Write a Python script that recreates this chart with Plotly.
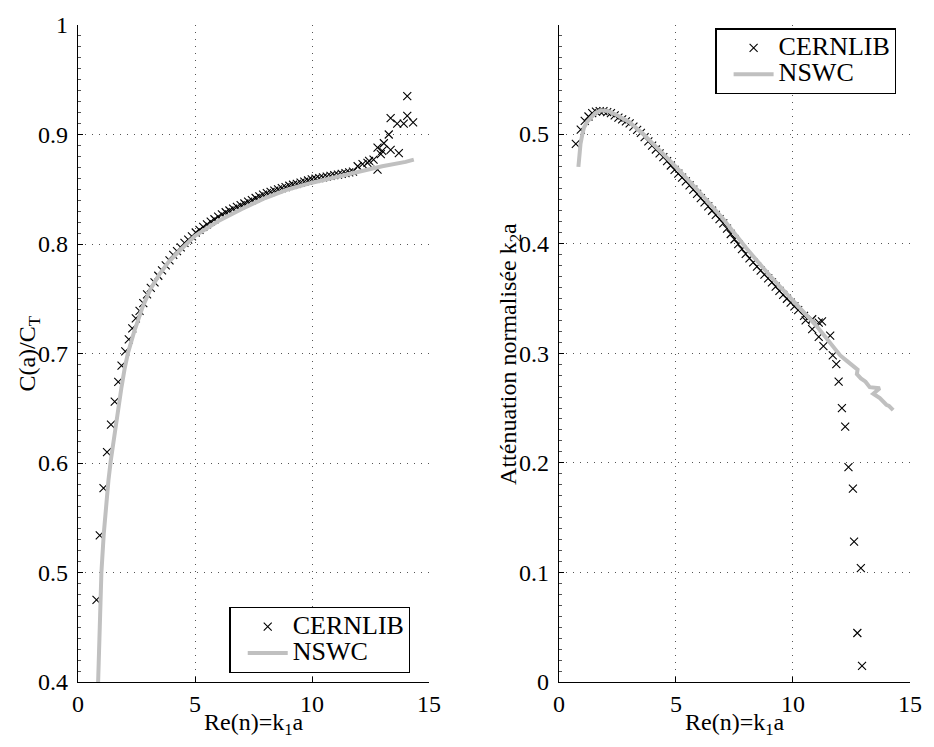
import plotly.graph_objects as go

# ---------------- data ----------------
# Left panel: C(a)/C_T vs Re(n)=k1 a
left_cern_x = [0.79, 0.93, 1.09, 1.24, 1.41, 1.57, 1.72, 1.86, 2.02, 2.17, 2.32, 2.47,
               2.63, 2.79, 2.95, 3.11, 3.27, 3.43, 3.59, 3.75, 3.91, 4.07, 4.23, 4.39,
               4.55, 4.71, 4.87, 5.03, 5.19, 5.35, 5.51, 5.67, 5.83, 5.99, 6.15, 6.31,
               6.47, 6.63, 6.79, 6.95, 7.11, 7.27, 7.43, 7.59, 7.75, 7.91, 8.07, 8.23,
               8.39, 8.55, 8.71, 8.87, 9.03, 9.19, 9.35, 9.51, 9.67, 9.83, 9.99, 10.15,
               10.31, 10.47, 10.63, 10.79, 10.95, 11.11, 11.27, 11.43, 11.59, 11.75,
               11.95, 12.16, 12.37, 12.44, 12.63, 12.80, 12.80, 12.94, 13.00, 13.07,
               13.28, 13.36, 13.36, 13.64, 13.71, 13.92, 14.07, 14.07, 14.32]
left_cern_y = [0.475, 0.534, 0.577, 0.610, 0.635, 0.656, 0.674, 0.689, 0.702, 0.713, 0.723, 0.732,
               0.739, 0.746, 0.754, 0.760, 0.765, 0.771, 0.776, 0.7805, 0.785, 0.790, 0.7935, 0.797,
               0.801, 0.804, 0.807, 0.8105, 0.813, 0.8156, 0.818, 0.8204, 0.8226, 0.825, 0.827, 0.829,
               0.8306, 0.8323, 0.834, 0.8355, 0.837, 0.8387, 0.840, 0.842, 0.8435, 0.845, 0.8465, 0.8476,
               0.8487, 0.8499, 0.851, 0.852, 0.8532, 0.8541, 0.855, 0.856, 0.857, 0.858, 0.859, 0.8596,
               0.8602, 0.8609, 0.8615, 0.8622, 0.8628, 0.8634, 0.8641, 0.8647, 0.8654, 0.866,
               0.871, 0.873, 0.874, 0.876, 0.877, 0.868, 0.888, 0.882, 0.885, 0.892,
               0.900, 0.886, 0.915, 0.910, 0.883, 0.910, 0.917, 0.935, 0.911]

left_nswc_x = [0.86, 0.93, 1.00, 1.10, 1.20, 1.30, 1.40, 1.50, 1.60, 1.70, 1.85, 2.00,
               2.13, 2.40, 2.77, 3.10, 3.47, 3.85, 4.25, 5.00, 6.00, 7.00, 8.00, 9.00,
               10.00, 11.00, 12.00, 13.00, 14.00, 14.35]
left_nswc_y = [0.400, 0.450, 0.500, 0.535, 0.562, 0.584, 0.602, 0.618, 0.633, 0.647, 0.668, 0.687,
               0.700, 0.720, 0.743, 0.759, 0.772, 0.783, 0.792, 0.8075, 0.821, 0.832, 0.842, 0.850,
               0.856, 0.861, 0.866, 0.871, 0.875, 0.877]

# Right panel: normalised attenuation k2 a vs Re(n)=k1 a
right_cern_x = [0.72, 0.93, 1.10, 1.26, 1.42, 1.58, 1.74, 1.90, 2.06, 2.22, 2.38, 2.54,
                2.70, 2.86, 3.02, 3.18, 3.34, 3.50, 3.66, 3.82, 3.98, 4.14, 4.30, 4.46,
                4.62, 4.78, 4.94, 5.10, 5.26, 5.42, 5.58, 5.74, 5.90, 6.06, 6.22, 6.38,
                6.54, 6.70, 6.86, 7.02, 7.18, 7.34, 7.50, 7.66, 7.82, 7.98, 8.14, 8.30,
                8.46, 8.62, 8.78, 8.94, 9.10, 9.26, 9.42, 9.58, 9.74, 9.90, 10.06, 10.22,
                10.47, 10.54, 10.82, 10.82, 11.10, 11.10, 11.24, 11.30, 11.59, 11.70,
                11.85, 11.95, 12.09, 12.23, 12.37, 12.56, 12.61, 12.90, 12.75, 12.95]
right_cern_y = [0.491, 0.504, 0.512, 0.516, 0.519, 0.5205, 0.521, 0.521, 0.520, 0.519, 0.517, 0.515,
                0.5133, 0.5115, 0.5097, 0.5068, 0.5039, 0.501, 0.4972, 0.4933, 0.4895, 0.4859, 0.4824, 0.4789,
                0.4753, 0.4713, 0.4674, 0.4638, 0.4603, 0.4568, 0.4531, 0.4492, 0.4454, 0.4416, 0.4377, 0.4339,
                0.430, 0.4262, 0.4224, 0.4184, 0.4136, 0.4088, 0.404, 0.3995, 0.395, 0.3906, 0.3866, 0.3828,
                0.379, 0.3754, 0.3718, 0.3683, 0.3646, 0.3608, 0.3569, 0.3532, 0.3497, 0.3462, 0.3427, 0.3393,
                0.334, 0.330, 0.331, 0.322, 0.328, 0.315, 0.329, 0.3065, 0.316, 0.298,
                0.290, 0.274, 0.250, 0.233, 0.196, 0.1765, 0.128, 0.104, 0.0447, 0.0148]

right_nswc_x = [0.83, 0.88, 0.92, 1.00, 1.07, 1.20, 1.36, 1.55, 1.78, 2.10, 2.50, 3.00,
                3.60, 4.30, 5.00, 6.00, 7.00, 8.00, 9.00, 10.00, 10.50, 11.00, 11.30, 11.65,
                12.02, 12.30, 12.55, 12.70, 12.76, 12.73, 12.90, 13.10, 13.28, 13.71, 13.43,
                13.71, 13.99, 14.10, 14.28]
right_nswc_y = [0.470, 0.485, 0.491, 0.500, 0.506, 0.511, 0.515, 0.519, 0.5216, 0.521, 0.517, 0.511,
                0.500, 0.485, 0.470, 0.447, 0.423, 0.396, 0.371, 0.348, 0.337, 0.325, 0.317, 0.308,
                0.298, 0.293, 0.289, 0.287, 0.285, 0.281, 0.277, 0.274, 0.269, 0.268, 0.263,
                0.259, 0.253, 0.252, 0.248]

x_ticks = [0, 5, 10, 15]
left_y_ticks = [0.4, 0.5, 0.6, 0.7, 0.8, 0.9, 1.0]
left_y_labels = ["0.4", "0.5", "0.6", "0.7", "0.8", "0.9", "1"]
right_y_ticks = [0, 0.1, 0.2, 0.3, 0.4, 0.5]
right_y_labels = ["0", "0.1", "0.2", "0.3", "0.4", "0.5"]

x_title = "Re(n)=k<sub>1</sub>a"
left_y_title = "C(a)/C<sub>T</sub>"
right_y_title = "Atténuation normalisée k<sub>2</sub>a"

# ---------------- figure ----------------
FONT = "'Liberation Serif', 'Times New Roman', Times, 'DejaVu Serif', serif"
GRAY = "#c0c0c0"

fig = go.Figure()

marker_style = dict(symbol="x-thin", size=8, color="black", line=dict(width=1.1, color="black"))

def lg(name):
    return "<span style='font-size:26px'>" + name + "</span>"

fig.add_trace(go.Scatter(x=left_cern_x, y=left_cern_y, mode="markers", name=lg("CERNLIB"),
                         marker=marker_style, xaxis="x", yaxis="y", legend="legend"))
fig.add_trace(go.Scatter(x=left_nswc_x, y=left_nswc_y, mode="lines", name=lg("NSWC"),
                         line=dict(color=GRAY, width=4), xaxis="x", yaxis="y", legend="legend"))
fig.add_trace(go.Scatter(x=right_cern_x, y=right_cern_y, mode="markers", name=lg("CERNLIB"),
                         marker=marker_style, xaxis="x2", yaxis="y2", legend="legend2"))
fig.add_trace(go.Scatter(x=right_nswc_x, y=right_nswc_y, mode="lines", name=lg("NSWC"),
                         line=dict(color=GRAY, width=4), xaxis="x2", yaxis="y2", legend="legend2"))

tickfont = dict(family=FONT, size=24, color="black")
titlefont = dict(family=FONT, size=24, color="black")

def xaxis_style(domain, anchor):
    return dict(domain=domain, anchor=anchor, range=[0, 15], tickvals=x_ticks,
                ticktext=[str(v) for v in x_ticks],
                showline=True, linecolor="black", linewidth=1.3, mirror=False,
                ticks="inside", ticklen=5, tickcolor="black",
                showgrid=True, gridcolor="#555555", griddash="1px,6px", gridwidth=1,
                zeroline=False, tickfont=tickfont, ticklabelstandoff=0)

def yaxis_style(anchor, rng, tv, tt):
    return dict(anchor=anchor, domain=[0, 1], range=rng, tickvals=tv, ticktext=tt,
                showline=True, linecolor="black", linewidth=1.3, mirror=False,
                ticks="inside", ticklen=5, tickcolor="black",
                minor=dict(ticks="inside", ticklen=3, dtick=0.01, tickcolor="#555555", showgrid=False),
                showgrid=True, gridcolor="#555555", griddash="1px,6px", gridwidth=1,
                zeroline=False, tickfont=tickfont, ticklabelstandoff=4)

legend_common = dict(xanchor="left", yanchor="top", bordercolor="black", borderwidth=1.3,
                     bgcolor="white", font=dict(family=FONT, size=18, color="black"),
                     itemwidth=40, indentation=12, tracegroupgap=0)

title_ann = dict(showarrow=False, font=titlefont, xref="paper", yref="paper")
annotations = [
    dict(text=x_title, x=0.2110, y=-0.0640, xanchor="center", yanchor="middle", **title_ann),
    dict(text=x_title, x=0.7891, y=-0.0640, xanchor="center", yanchor="middle", **title_ann),
    dict(text=left_y_title, x=-0.0600, y=0.5, textangle=-90, xanchor="center", yanchor="middle", **title_ann),
    dict(text=right_y_title, x=0.5185, y=0.5, textangle=-90, xanchor="center", yanchor="middle", **title_ann),
]

fig.update_layout(
    width=934, height=747,
    margin=dict(l=78, r=17, t=20, b=65, pad=0),
    paper_bgcolor="white", plot_bgcolor="white",
    font=dict(family=FONT, color="black"),
    xaxis=xaxis_style([0, 0.4219], "y"),
    yaxis=yaxis_style("x", [0.4, 1.0], left_y_ticks, left_y_labels),
    xaxis2=xaxis_style([0.5781, 1], "y2"),
    yaxis2=yaxis_style("x2", [0, 0.5995], right_y_ticks, right_y_labels),
    legend=dict(x=0.182, y=0.1140, **legend_common),
    legend2=dict(x=0.766, y=0.995, **legend_common),
    annotations=annotations,
    showlegend=True,
)

fig.write_html("out.html")
